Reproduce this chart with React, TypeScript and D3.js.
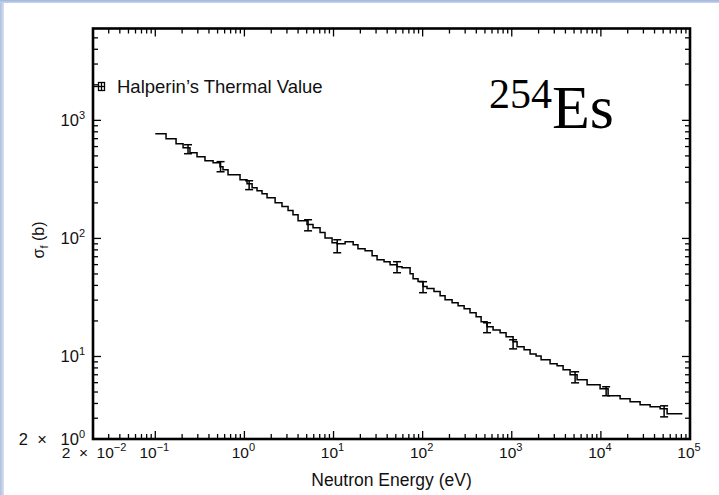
import React from "react";
import * as d3 from "d3";

// Step histogram: bin start energies (eV) and cross sections (b)
const stepEnergy = [0.1, 0.132, 0.171, 0.205, 0.245, 0.294, 0.361, 0.445, 0.532, 0.575, 0.655, 0.893, 1.07, 1.22, 1.385, 1.576, 1.795, 2.21, 2.64, 3.09, 3.51, 4.0, 5.04, 5.89, 7.06, 8.03, 9.63, 10.95, 13.5, 16.6, 18.8, 22.6, 27.1, 30.8, 36.9, 43.1, 51.6, 58.7, 72.3, 78.1, 88.8, 101, 112, 134, 157, 178.5, 214, 250, 292, 340, 398, 453, 528, 617, 740, 863, 1035, 1147, 1375, 1606, 1875, 2133, 2692, 3227, 3767, 4512, 5408, 7004, 9800, 12050, 16430, 21280, 27540, 35680, 46200, 55370];
const stepSigma = [770, 700, 635, 587, 532, 492, 455, 438, 405, 382, 347, 314, 291, 269, 254, 239, 221, 201, 186, 172, 159, 141, 131, 123, 112, 101, 92, 90, 93.8, 88.5, 81.8, 78.7, 71.3, 66, 63.5, 59.8, 57.5, 56.4, 50.3, 45.6, 43.1, 39.1, 37.6, 35.5, 32.7, 30.2, 28.5, 26.9, 25.4, 23.5, 21.7, 19.7, 17.9, 16.8, 15.9, 14.7, 13.3, 12.1, 11.4, 10.5, 10.1, 9.38, 8.67, 8.34, 7.72, 7.0, 6.35, 5.76, 5.33, 4.64, 4.38, 4.13, 3.9, 3.75, 3.6, 3.27];
const stepEnd = 82000;

// Error bars
const errEnergy = [0.233, 0.54, 1.13, 5.18, 11, 51.6, 101, 528, 1035, 5136, 11450, 51230];
const errLow = [522, 367, 259, 116, 75.6, 51.2, 34.7, 15.9, 11.6, 5.98, 4.65, 3.08];
const errHigh = [622, 447, 308, 144, 97.5, 63.5, 43, 19.3, 13.85, 7.42, 5.54, 3.82];

// Axis labels
const xTickValues = [0.02, 0.1, 1, 10, 100, 1000, 10000, 100000];
const xTickLabels = [["2\u00A0\u00A0×\u00A0\u00A010", "−2"], ["10", "−1"], ["10", "0"], ["10", "1"], ["10", "2"], ["10", "3"], ["10", "4"], ["10", "5"]];
const yTickValues = [2, 10, 100, 1000];
const yTickLabels = [["2\u00A0\u00A0×\u00A0\u00A0\u00A010", "0"], ["10", "1"], ["10", "2"], ["10", "3"]];
const xDomain = [0.02, 100000];
const yDomain = [2, 6000];
const xTitle = "Neutron Energy (eV)";
const legendText = "Halperin’s Thermal Value";

const W = 719, H = 495;
const L = 93, R = 690, T = 28.5, B = 439;
const FONT = "'Liberation Sans', Arial, Helvetica, sans-serif";

function minorTicks(lo: number, hi: number) {
  const out: { v: number; major: boolean }[] = [];
  for (let e = -3; e <= 6; e++) {
    for (let m = 1; m <= 9; m++) {
      const v = m * Math.pow(10, e);
      if (v > lo * 1.0001 && v < hi * 0.9999) out.push({ v, major: m === 1 });
    }
  }
  return out;
}

export default function App() {
  const x = d3.scaleLog().domain(xDomain).range([L, R]);
  const y = d3.scaleLog().domain(yDomain).range([B, T]);

  const pts: [number, number][] = stepEnergy.map((e, i) => [e, stepSigma[i]]);
  pts.push([stepEnd, stepSigma[stepSigma.length - 1]]);
  const line = d3
    .line<[number, number]>()
    .x((d) => x(d[0]))
    .y((d) => y(d[1]))
    .curve(d3.curveStepAfter);

  const xt = minorTicks(xDomain[0], xDomain[1]);
  const yt = minorTicks(yDomain[0], yDomain[1]);
  const majLen = 8, minLen = 5;

  return (
    <svg
      width={W}
      height={H}
      style={{ position: "absolute", left: 0, top: 0, background: "#fff" }}
      xmlns="http://www.w3.org/2000/svg"
    >
      <rect x={0} y={0} width={W} height={H} fill="#fff" />
      <defs>
        <linearGradient id="lg" x1="0" x2="1" y1="0" y2="0">
          <stop offset="0" stopColor="#aebfdf" />
          <stop offset="1" stopColor="#d9e0f0" />
        </linearGradient>
        <linearGradient id="tg" x1="0" x2="0" y1="0" y2="1">
          <stop offset="0" stopColor="#9fb6dc" />
          <stop offset="1" stopColor="#c9d5ec" />
        </linearGradient>
      </defs>
      <rect x={0} y={0} width={4} height={H} fill="url(#lg)" />
      <rect x={0} y={0} width={W} height={3} fill="url(#tg)" />

      {/* ticks */}
      <g stroke="#000" strokeWidth={1.3}>
        {xt.map((t, i) => {
          const px = x(t.v);
          const len = t.major ? majLen : minLen;
          return (
            <g key={"xt" + i}>
              <line x1={px} x2={px} y1={B} y2={B - len} />
              <line x1={px} x2={px} y1={T} y2={T + len} />
            </g>
          );
        })}
        {yt.map((t, i) => {
          const py = y(t.v);
          const len = t.major ? majLen : minLen;
          return (
            <g key={"yt" + i}>
              <line x1={L} x2={L + len} y1={py} y2={py} />
              <line x1={R} x2={R - len} y1={py} y2={py} />
            </g>
          );
        })}
      </g>

      {/* frame */}
      <rect x={L} y={T} width={R - L} height={B - T} fill="none" stroke="#000" strokeWidth={2.6} />

      {/* step curve */}
      <path d={line(pts) || ""} fill="none" stroke="#000" strokeWidth={1.5} />

      {/* error bars */}
      <g stroke="#000" strokeWidth={1.5}>
        {errEnergy.map((e, i) => {
          const px = x(e);
          const y1 = y(errLow[i]);
          const y2 = y(errHigh[i]);
          return (
            <g key={"eb" + i}>
              <line x1={px} x2={px} y1={y1} y2={y2} />
              <line x1={px - 4} x2={px + 4} y1={y1} y2={y1} />
              <line x1={px - 4} x2={px + 4} y1={y2} y2={y2} />
            </g>
          );
        })}
      </g>

      {/* legend */}
      <g stroke="#000" strokeWidth={1.3} fill="none">
        <line x1={L} x2={99} y1={86.5} y2={86.5} />
        <rect x={98.5} y={82.5} width={6} height={8} />
        <line x1={101.5} x2={101.5} y1={82.5} y2={90.5} />
        <line x1={99} x2={104} y1={86.5} y2={86.5} />
      </g>
      <text x={117} y={92.5} fontFamily={FONT} fontSize={18.5} fill="#111">
        {legendText}
      </text>

      {/* isotope label */}
      <text x={489} y={108} fontFamily="'Liberation Serif', 'Times New Roman', serif" fontSize={42} fill="#000">
        254
      </text>
      <text x={552} y={128} fontFamily="'Liberation Serif', 'Times New Roman', serif" fontSize={62} fill="#000">
        Es
      </text>

      {/* x tick labels */}
      {xTickValues.map((v, i) => (
        <text key={"xl" + i} x={x(v) + (i === 0 ? 1 : -1)} y={458} textAnchor="middle" fontFamily={FONT} fontSize={15.5} fill="#111">
          <tspan>{xTickLabels[i][0]}</tspan>
          <tspan dy={-7} fontSize={11}>{xTickLabels[i][1]}</tspan>
        </text>
      ))}

      {/* y tick labels */}
      {yTickValues.map((v, i) => (
        <text key={"yl" + i} x={85} y={y(v) + 6} textAnchor="end" fontFamily={FONT} fontSize={16.5} fill="#111">
          <tspan>{yTickLabels[i][0]}</tspan>
          <tspan dy={-7} fontSize={11}>{yTickLabels[i][1]}</tspan>
        </text>
      ))}

      {/* axis titles */}
      <text x={(L + R) / 2} y={486} textAnchor="middle" fontFamily={FONT} fontSize={17.5} fill="#111">
        {xTitle}
      </text>
      <text transform={`translate(44, 240) rotate(-90)`} textAnchor="middle" fontFamily={FONT} fontSize={16} fill="#111">
        <tspan>σ</tspan>
        <tspan dy={4} fontSize={11}>f</tspan>
        <tspan dy={-4}> (b)</tspan>
      </text>
    </svg>
  );
}
